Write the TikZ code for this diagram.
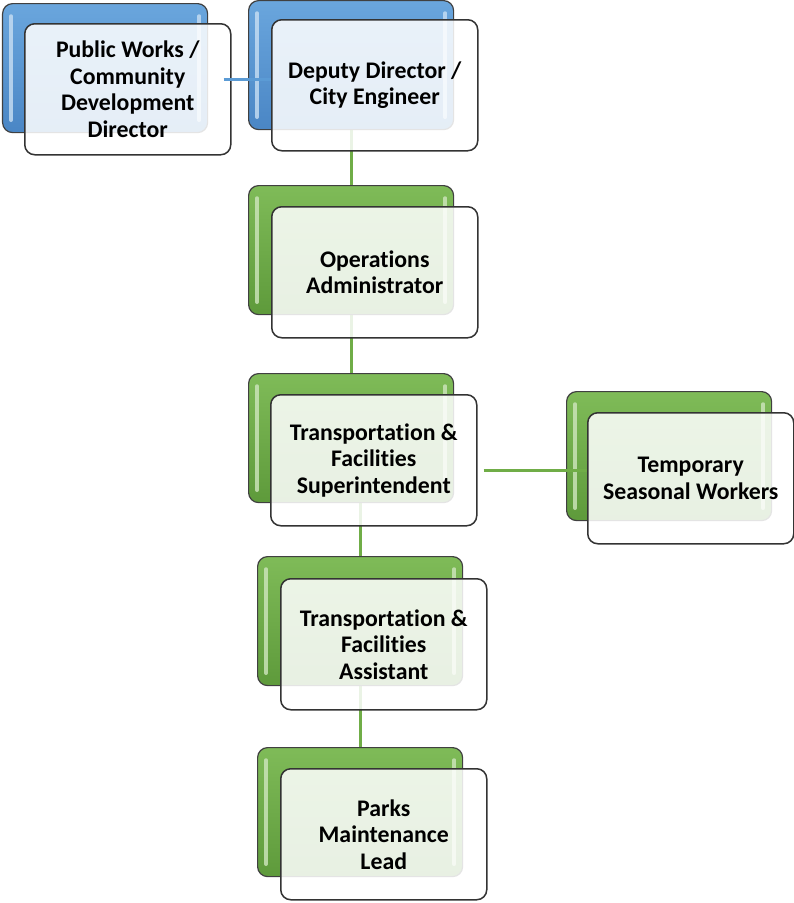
\documentclass[tikz,border=0pt]{standalone}
\usepackage{fontspec}
\setmainfont{Carlito}[Ligatures={NoCommon}]
\usetikzlibrary{calc}
\definecolor{blueTop}{HTML}{6AA6DD}
\definecolor{blueBot}{HTML}{4A86C5}
\definecolor{blueGloss}{HTML}{C9DFF3}
\definecolor{greenTop}{HTML}{7FBB58}
\definecolor{greenBot}{HTML}{5E9A3B}
\definecolor{greenGloss}{HTML}{CFE6BE}
\definecolor{blueLine}{HTML}{5B9BD5}
\definecolor{greenLine}{HTML}{70AD47}
\tikzset{
  backbox/.style={draw=black!75, line width=1.2pt, rounded corners=10pt,
    minimum width=205pt, minimum height=129pt, anchor=north west, inner sep=0pt},
  frontbox/.style={draw=black!80, line width=1.5pt, rounded corners=10pt,
    fill=white, fill opacity=0.86, text opacity=1, text=black,
    minimum width=206pt, minimum height=131pt, anchor=north west, inner sep=0pt,
    align=center, font=\fontsize{23.8}{26.5}\selectfont\bfseries},
  gloss/.style={line width=3.5pt, line cap=round, opacity=0.8},
  bconn/.style={draw=blueLine, line width=2.8pt},
  gconn/.style={draw=greenLine, line width=2.8pt}
}
\newcommand\orgunit[7]{%
  \node[backbox, top color=#6Top, bottom color=#6Bot] (#1b) at (#2,#3) {};
  \draw[gloss, draw=#6Gloss] ([xshift=9pt,yshift=-13pt]#1b.north west) -- ([xshift=9pt,yshift=13pt]#1b.south west);
  \draw[gloss, draw=#6Gloss] ([xshift=-9pt,yshift=-13pt]#1b.north east) -- ([xshift=-9pt,yshift=13pt]#1b.south east);
  \node[frontbox] (#1f) at (#4,#5) {#7};
}
\begin{document}
\begin{tikzpicture}[x=1pt,y=-1pt]
\useasboundingbox (0,0) rectangle (794,903);
% invisible placeholders so the vertical connectors sit behind the boxes
\begin{scope}
\node[backbox, draw=none] (ddbx) at (248,0) {};
\node[backbox, draw=none] (oabx) at (248,185) {};
\node[backbox, draw=none] (tfsbx) at (248,373) {};
\node[backbox, draw=none] (tfabx) at (257,556) {};
\node[backbox, draw=none] (pkbx) at (257,747) {};
\draw[gconn] (ddbx.south) -- (oabx.north);
\draw[gconn] (oabx.south) -- (tfsbx.north);
\draw[gconn] (tfabx.north |- tfsbx.south) -- (tfabx.north);
\draw[gconn] (pkbx.north |- tfabx.south) -- (pkbx.north);
\end{scope}
\orgunit{pw}{2}{3}{24}{23}{blue}{Public Works /\\Community\\Development\\Director}
\orgunit{dd}{248}{0}{271}{19}{blue}{Deputy Director /\\City Engineer}
\orgunit{oa}{248}{185}{271}{206}{green}{Operations\\Administrator}
\orgunit{tfs}{248}{373}{270}{394}{green}{Transportation \&\\Facilities\\Superintendent}
\orgunit{tmp}{566}{391}{587}{412}{green}{Temporary\\Seasonal Workers}
\orgunit{tfa}{257}{556}{280}{578}{green}{Transportation \&\\Facilities\\Assistant}
\orgunit{pk}{257}{747}{280}{768}{green}{Parks\\Maintenance\\Lead}
% connectors drawn on top
\draw[bconn] ([xshift=-8pt,yshift=10pt]pwf.east) -- ([yshift=10pt]pwf.east -| ddf.west);
\draw[gconn] ([xshift=6pt,yshift=-10pt]tfsf.east) -- ([yshift=-10pt]tfsf.east -| tmpf.west);
\end{tikzpicture}
\end{document}
